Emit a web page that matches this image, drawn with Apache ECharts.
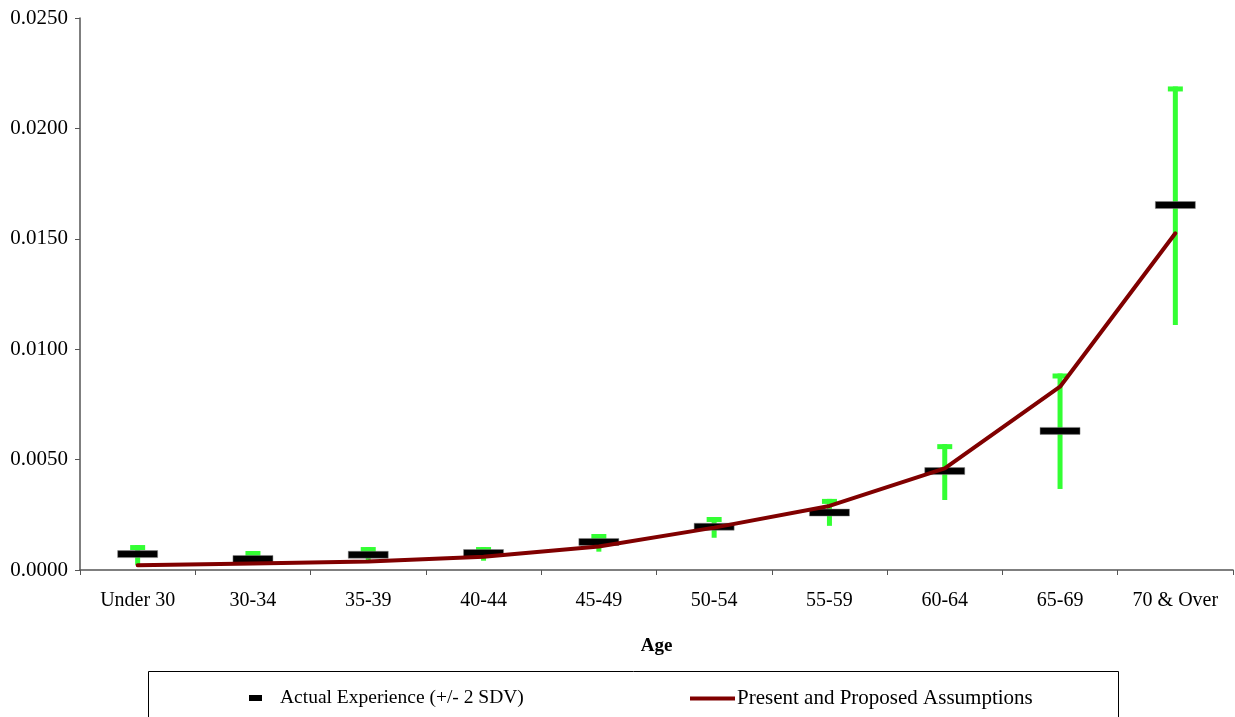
<!DOCTYPE html>
<html>
<head>
<meta charset="utf-8">
<script src="https://cdn.jsdelivr.net/npm/echarts@6/dist/echarts.min.js"></script>
<style>html,body{margin:0;padding:0;background:#fff}#c{width:1235px;height:717px}</style>
</head>
<body>
<div id="c"></div>
<script>
const categories = ['Under 30','30-34','35-39','40-44','45-49','50-54','55-59','60-64','65-69','70 & Over'];
const actual = [0.00072, 0.00050, 0.00069, 0.00077, 0.00127, 0.00196, 0.00260, 0.00448, 0.00630, 0.01653];
const upper  = [0.00113, 0.00086, 0.00104, 0.00104, 0.00163, 0.00240, 0.00322, 0.00570, 0.00890, 0.02190];
const lower  = [0.00023, 0.00030, 0.00045, 0.00042, 0.00083, 0.00146, 0.00200, 0.00317, 0.00367, 0.01110];
const assumptions = [0.00022, 0.00030, 0.00038, 0.00060, 0.00106, 0.00192, 0.00290, 0.00460, 0.00830, 0.01525];
const yTicks = {min: 0, max: 0.025, interval: 0.005};

const FONT = '"Liberation Serif", "Times New Roman", serif';
const chart = echarts.init(document.getElementById('c'));
const errData = categories.map((c, i) => [i, lower[i], upper[i]]);
const barData = categories.map((c, i) => [i, actual[i]]);

chart.setOption({
  animation: false,
  backgroundColor: '#fff',
  textStyle: {fontFamily: FONT, color: '#000'},
  grid: {left: 80, right: 2, top: 18, bottom: 147, containLabel: false},
  xAxis: {
    type: 'category',
    data: categories,
    boundaryGap: true,
    name: 'Age',
    nameLocation: 'middle',
    nameGap: 67,
    nameTextStyle: {fontFamily: FONT, fontSize: 19, fontWeight: 'bold', color: '#000'},
    axisLine: {lineStyle: {color: '#555', width: 1.5}},
    axisTick: {show: true, alignWithLabel: false, length: 5, lineStyle: {color: '#555'}},
    axisLabel: {fontFamily: FONT, fontSize: 20, color: '#000', margin: 21, interval: 0},
    splitLine: {show: false}
  },
  yAxis: {
    type: 'value',
    min: yTicks.min, max: yTicks.max, interval: yTicks.interval,
    axisLine: {show: true, lineStyle: {color: '#555', width: 1.5}},
    axisTick: {show: true, length: 5, lineStyle: {color: '#555'}},
    axisLabel: {fontFamily: FONT, fontSize: 21, color: '#000', margin: 12,
      formatter: v => v.toFixed(4)},
    splitLine: {show: false}
  },
  legend: [
    {
      data: [{name: 'Actual Experience (+/- 2 SDV)', icon: 'rect', itemStyle: {color: '#000'}}],
      left: 249, top: 688, itemWidth: 13, itemHeight: 6, padding: 0,
      textStyle: {fontFamily: FONT, fontSize: 19.5, color: '#000', padding: [0, 0, 0, 13]},
      selectedMode: false
    },
    {
      data: [{name: 'Present and Proposed Assumptions', icon: 'rect', itemStyle: {color: '#800000'}}],
      left: 690, top: 688, itemWidth: 45, itemHeight: 4, padding: 0, itemGap: 0,
      textStyle: {fontFamily: FONT, fontSize: 21, color: '#000', padding: [0, 0, 0, -3]},
      selectedMode: false
    }
  ],
  graphic: [{
    type: 'rect', left: 148, top: 671, z: -1,
    shape: {width: 970, height: 60},
    style: {fill: '#fff', stroke: '#000', lineWidth: 1}
  }],
  series: [
    {
      name: 'errorbars',
      type: 'custom',
      z: 2,
      data: errData,
      encode: {x: 0, y: [1, 2]},
      renderItem: function (params, api) {
        const x = api.coord([api.value(0), 0])[0];
        const lo = api.coord([api.value(0), api.value(1)])[1];
        const hi = api.coord([api.value(0), api.value(2)])[1];
        const sw = 5, cw = 15, ch = 5;
        return {
          type: 'group',
          children: [
            {type: 'rect', shape: {x: x - sw / 2, y: hi, width: sw, height: lo - hi}, style: {fill: '#33FF33'}},
            {type: 'rect', shape: {x: x - cw / 2, y: hi, width: cw, height: ch}, style: {fill: '#33FF33'}}
          ]
        };
      }
    },
    {
      name: 'Actual Experience (+/- 2 SDV)',
      type: 'custom',
      z: 3,
      data: barData,
      encode: {x: 0, y: 1},
      itemStyle: {color: '#000'},
      renderItem: function (params, api) {
        const p = api.coord([api.value(0), api.value(1)]);
        const w = 40, h = 7;
        return {type: 'rect', shape: {x: p[0] - w / 2, y: p[1] - h / 2, width: w, height: h},
          style: {fill: '#000', stroke: '#888', lineWidth: 0.5}};
      }
    },
    {
      name: 'Present and Proposed Assumptions',
      type: 'line',
      z: 4,
      data: assumptions,
      symbol: 'none',
      smooth: false,
      lineStyle: {color: '#800000', width: 4, cap: 'round'},
      itemStyle: {color: '#800000'}
    }
  ]
});
</script>
</body>
</html>
